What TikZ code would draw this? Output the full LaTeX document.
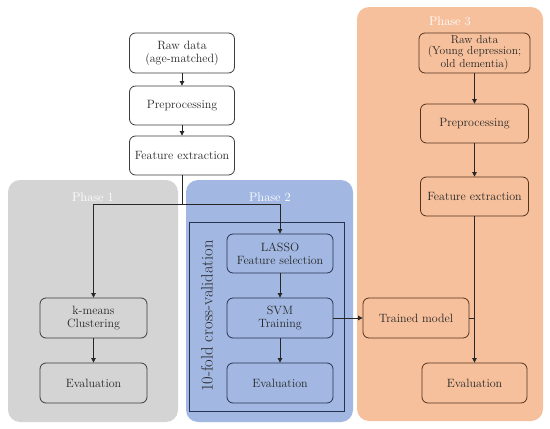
\documentclass[tikz,border=0pt]{standalone}
\usetikzlibrary{arrows.meta}
\definecolor{grayph}{RGB}{212,212,212}
\definecolor{blueph}{RGB}{162,184,226}
\definecolor{orangeph}{RGB}{246,192,156}
\definecolor{grayln}{RGB}{60,60,60}
\definecolor{blueln}{RGB}{40,50,80}
\definecolor{orangeln}{RGB}{85,50,30}
\tikzset{
  box/.style={draw=#1, line width=0.8pt, rounded corners=6pt, align=center, inner sep=0pt,
    text=black!85, font=\fontsize{12}{13}\selectfont},
  phase/.style={fill=#1, draw=none, rounded corners=12pt},
  phlabel/.style={text=white, font=\fontsize{12.5}{14}\selectfont},
  conn/.style={line width=0.7pt, draw=black!85},
  arr/.style={conn, -{Triangle[length=4.5pt,width=4.5pt]}}
}
\begin{document}
\begin{tikzpicture}[x=1pt,y=-1pt]
\useasboundingbox (0,0) rectangle (550,429);
% phase panels
\path[phase=grayph] (8,180) rectangle (178,422);
\path[phase=blueph] (186,180) rectangle (353,422);
\path[phase=orangeph] (357,7) rectangle (543,421);
\node[phlabel] (p1) at (93,197) {Phase 1};
\node[phlabel] (p2) at (270,197) {Phase 2};
\node[phlabel] (p3) at (450,21) {Phase 3};
% cross-validation frame
\draw[blueln, line width=0.8pt] (189,222) rectangle (344,411);
\node[rotate=90, font=\fontsize{16.5}{18}\selectfont, text=black!85] (cv) at (207,316) {10-fold cross-validation};
% top boxes
\node[box=grayln, fill=white, minimum width=105pt, minimum height=40pt] (raw) at (182,53) {Raw data\\(age-matched)};
\node[box=grayln, fill=white, minimum width=105pt, minimum height=39pt] (pre) at (182,105.5) {Preprocessing};
\node[box=grayln, fill=white, minimum width=105pt, minimum height=39pt] (fe) at (182,155.5) {Feature extraction};
% phase 1 boxes
\node[box=grayln, minimum width=107pt, minimum height=40pt] (km) at (93.5,318) {k-means\\Clustering};
\node[box=grayln, minimum width=107pt, minimum height=40pt] (ev1) at (93.5,383) {Evaluation};
% phase 2 boxes
\node[box=blueln, minimum width=106pt, minimum height=39pt] (lasso) at (280,253.5) {LASSO\\Feature selection};
\node[box=blueln, minimum width=106pt, minimum height=40pt] (svm) at (280,318) {SVM\\Training};
\node[box=blueln, minimum width=106pt, minimum height=40pt] (ev2) at (280,383) {Evaluation};
% phase 3 boxes
\node[box=orangeln, minimum width=111pt, minimum height=40pt, font=\fontsize{11.5}{11.3}\selectfont] (raw3) at (474.5,53) {Raw data\\(Young depression;\\old dementia)};
\node[box=orangeln, minimum width=108pt, minimum height=39pt] (pre3) at (474.5,123.5) {Preprocessing};
\node[box=orangeln, minimum width=108pt, minimum height=39pt] (fe3) at (474.5,196.5) {Feature extraction};
\node[box=orangeln, minimum width=106pt, minimum height=40pt] (tm) at (416,318) {Trained model};
\node[box=orangeln, minimum width=105pt, minimum height=40pt] (ev3) at (474.5,383) {Evaluation};
% connectors
\coordinate (split) at (182,204);
\draw[arr] (raw) -- (pre);
\draw[arr] (pre) -- (fe);
\draw[conn] (fe) -- (split);
\draw[arr] (split) -| (km);
\draw[arr] (split) -| (lasso);
\draw[arr] (km) -- (ev1);
\draw[arr] (lasso) -- (svm);
\draw[arr] (svm) -- (ev2);
\draw[arr] (svm) -- (tm);
\draw[arr] (raw3) -- (pre3);
\draw[arr] (pre3) -- (fe3);
\draw[arr] (fe3) -- (ev3);
\draw[conn] (tm.east) -- (tm.east -| fe3);
\end{tikzpicture}
\end{document}
